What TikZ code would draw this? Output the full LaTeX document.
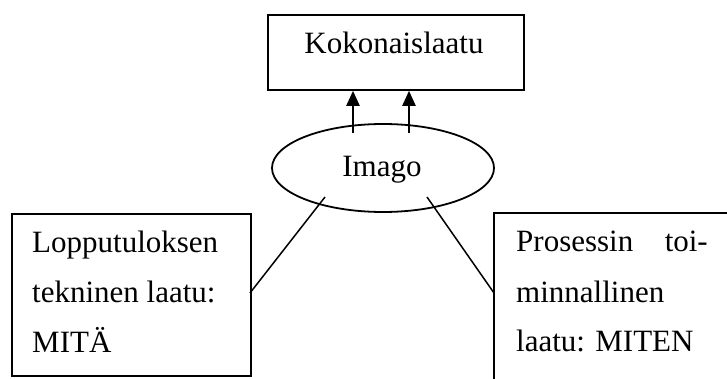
\documentclass[tikz,border=0pt]{standalone}
\usepackage{fontspec}
\setmainfont{Liberation Serif}
\usetikzlibrary{shapes.geometric,arrows.meta}
\tikzset{
  box/.style={draw, line width=1.8pt, rectangle, inner sep=0pt, anchor=north west},
  txt/.style={inner sep=0pt, anchor=base west, font=\fontsize{31}{37}\selectfont},
  ctxt/.style={inner sep=0pt, anchor=base, font=\fontsize{31}{37}\selectfont},
  link/.style={line width=1.5pt},
  up/.style={line width=2.2pt, -{Triangle[length=15pt,width=13pt]}},
  edge/.style={line width=1.8pt, line cap=rect}
}
\begin{document}
\begin{tikzpicture}[x=1pt,y=-1pt]
\useasboundingbox[fill=white] (0,0) rectangle (727,379);

% overall quality box
\node[box, minimum width=256pt, minimum height=75pt] (koko) at (267,14) {};
\node[ctxt] (kokotxt) at (394,54) {Kokonaislaatu};

% image ellipse
\node[draw, ellipse, line width=1.8pt, minimum width=222pt, minimum height=88pt, inner sep=0pt] (imago) at (383,168) {};
\node[ctxt] (imagotxt) at (382,177) {Imago};

% arrows from the image up to the overall quality
\coordinate (a1) at (353,133);
\coordinate (a2) at (409,133);
\draw[up] (a1) -- (a1 |- koko.south);
\draw[up] (a2) -- (a2 |- koko.south);

% technical quality box
\node[box, minimum width=239pt, minimum height=162pt] (tekn) at (11,213) {};
\node[txt] (t1) at (32,252) {Lopputuloksen};
\node[txt] (t2) at (32,302) {tekninen laatu:};
\node[txt] (t3) at (32,352) {MITÄ};

% functional quality box: only its top and left sides fall on the page
\coordinate (toimnw) at (494,213);
\coordinate (toimne) at (727,213);
\coordinate (toimsw) at (494,379);
\draw[edge] (toimsw) -- (toimnw) -- (toimne);
\node[txt] (p1) at (516,251) {Prosessin};
\node[inner sep=0pt, anchor=base east, font=\fontsize{31}{37}\selectfont] (p1b) at (708,251) {toi-};
\node[txt] (p2) at (516,302) {minnallinen};
\node[txt] (p3) at (516,351) {laatu: MITEN};

% links between the boxes and the image
\coordinate (lfoot) at (250,293);
\coordinate (ltop) at (325,197);
\coordinate (rtop) at (427,197);
\coordinate (rfoot) at (494,293);
\draw[link] (lfoot) -- (ltop);
\draw[link] (rtop) -- (rfoot);
\end{tikzpicture}
\end{document}
